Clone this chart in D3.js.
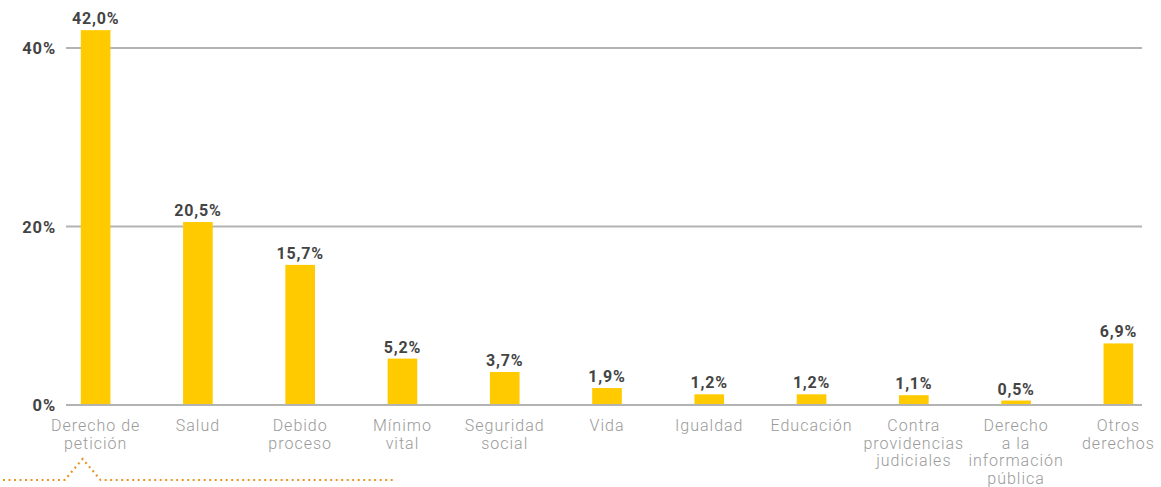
<!DOCTYPE html>
<html><head><meta charset="utf-8">
<script src="https://cdn.jsdelivr.net/npm/d3@7"></script>
<style>body{margin:0;background:#fff;}</style>
</head><body>
<svg id="c" width="1161" height="487"></svg>
<script>
const categories = [["Derecho de","petición"],["Salud"],["Debido","proceso"],["Mínimo","vital"],["Seguridad","social"],["Vida"],["Igualdad"],["Educación"],["Contra","providencias","judiciales"],["Derecho","a la","información","pública"],["Otros","derechos"]];
const values = [42.0,20.5,15.7,5.2,3.7,1.9,1.2,1.2,1.1,0.5,6.9];
const valueLabels = ["42,0%","20,5%","15,7%","5,2%","3,7%","1,9%","1,2%","1,2%","1,1%","0,5%","6,9%"];
const ticks = [0,20,40];
const tickLabels = ["0%","20%","40%"];

const svg = d3.select("#c");
const y = d3.scaleLinear().domain([0,40]).range([405,48]);
const x = d3.scaleBand().domain(d3.range(categories.length)).range([45,1169]).paddingInner(0.71).paddingOuter(0.35);

// gridlines
svg.append("g").selectAll("line").data(ticks).join("line")
  .attr("x1",66).attr("x2",1142)
  .attr("y1",d=>y(d)).attr("y2",d=>y(d))
  .attr("stroke","#b3b3b3").attr("stroke-width",2);

svg.append("g").selectAll("text").data(ticks).join("text")
  .attr("x",56).attr("y",d=>y(d)+6)
  .attr("text-anchor","end")
  .attr("font-family","Roboto, sans-serif").attr("font-weight","bold").attr("font-size",16.5)
  .attr("letter-spacing",0.9)
  .attr("fill","#444")
  .text((d,i)=>tickLabels[i]);

// bars
svg.append("g").selectAll("rect").data(values).join("rect")
  .attr("x",(d,i)=>x(i)).attr("width",x.bandwidth())
  .attr("y",d=>y(d)).attr("height",d=>y(0)-1-y(d))
  .attr("fill","#ffcb00");

// value labels
svg.append("g").selectAll("text").data(values).join("text")
  .attr("x",(d,i)=>x(i)+x.bandwidth()/2).attr("y",d=>y(d)-6)
  .attr("text-anchor","middle")
  .attr("font-family","Roboto, sans-serif").attr("font-weight","bold").attr("font-size",16)
  .attr("letter-spacing",0.8)
  .attr("fill","#444")
  .text((d,i)=>valueLabels[i]);

// category labels
const cl = svg.append("g").selectAll("text").data(categories).join("text")
  .attr("x",(d,i)=>x(i)+x.bandwidth()/2).attr("y",431)
  .attr("text-anchor","middle")
  .attr("font-family","Roboto, sans-serif").attr("font-weight",300).attr("font-size",16)
  .attr("letter-spacing",1)
  .attr("fill","#9a9a9a");
cl.selectAll("tspan").data(d=>d).join("tspan")
  .attr("x",function(){return this.parentNode.getAttribute("x");})
  .attr("dy",(d,i)=>i===0?0:17.5)
  .text(d=>d);

// dotted decoration
const px = x(0)+x.bandwidth()/2 - 13;
const pts = [[3,480],[px-18,480],[px,459],[px+18,480],[395,480]];
svg.append("path").attr("d",d3.line()(pts))
  .attr("fill","none").attr("stroke","#e8962a").attr("stroke-width",2.2)
  .attr("stroke-dasharray","2,3.5");
</script>
</body></html>
